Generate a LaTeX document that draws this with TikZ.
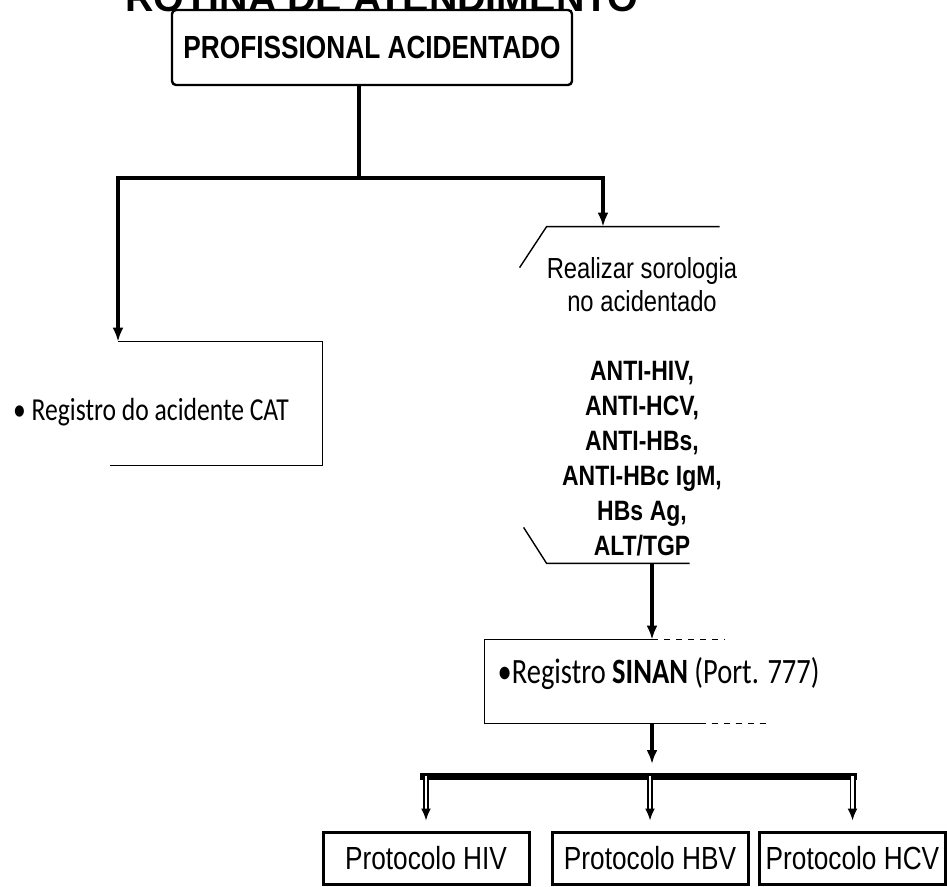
\documentclass[tikz,border=0pt]{standalone}
\usepackage{fontspec}
\setmainfont{Liberation Sans}
\newfontfamily\narrowsans{Liberation Sans}[FakeStretch=0.82]
\newfontfamily\calnarrow{Carlito}[FakeStretch=0.8]
\usetikzlibrary{arrows.meta, positioning, calc}

\tikzset{
  conn/.style={line width=2pt, line cap=rect},
  arrowconn/.style={line width=2pt, -{Latex[length=7pt,width=5.5pt]}},
  dblarrow/.style={double, double distance=1.2pt, line width=0.9pt,
                   -{Latex[length=6pt,width=5pt]}, shorten >=5pt},
  faint/.style={line width=0.7pt},
  frame/.style={minimum width=#1, inner sep=0pt},
  topbox/.style={draw, line width=1.2pt, rounded corners=2pt,
                 minimum width=200pt, minimum height=37.5pt,
                 font=\narrowsans\bfseries\fontsize{16}{19}\selectfont},
  protbox/.style={draw, line width=1.5pt, minimum height=26pt,
                  font=\narrowsans\fontsize{16}{19}\selectfont}
}

\begin{document}
\begin{tikzpicture}[x=0.5pt, y=-0.5pt]
\useasboundingbox (0,0) rectangle (947,887);

% title, cut by the top edge
\node[anchor=base, inner sep=0pt, font=\bfseries\fontsize{19.7}{22}\selectfont]
     (titulo) at (382,12) {ROTINA DE ATENDIMENTO};

% === top ===
\node[topbox] (prof) at (372,47.5) {PROFISSIONAL ACIDENTADO};

\coordinate (split) at (359,178);
\coordinate (barL) at (118,178);
\coordinate (barR) at (603,178);
\draw[conn] (prof.south -| split) -- (split);
\draw[conn] (barL) -- (barR);

% === left: CAT ===
\node[frame=106pt, minimum height=61.5pt] (cat) at (216,403.5) {};
\node[font=\calnarrow\fontsize{16}{19}\selectfont] (cattxt) at (151,412)
     {\textbullet\ Registro do acidente CAT};
\draw[faint] (cat.north -| barL) -- (cat.north east) -- (cat.south east) -- (cat.south west);
\draw[arrowconn] (barL) -- (cat.north -| barL);

% === right: sorologia ===
\node[frame=122pt, minimum height=168pt] (sero) at (642,395) {};
\node[align=center, text width=130pt, inner sep=0pt] (serotxt) at (642,407) {%
  {\narrowsans\fontsize{14.5}{16.5}\selectfont Realizar sorologia\\no acidentado\par}
  \vspace{17pt}
  {\narrowsans\bfseries\fontsize{14}{17.5}\selectfont
   ANTI-HIV,\\ANTI-HCV,\\ANTI-HBs,\\ANTI-HBc IgM,\\HBs Ag,\\ALT/TGP\par}};
\draw[faint] ($(sero.north west)+(0,41)$) -- ($(sero.north west)+(27,0)$)
             -- ($(sero.north west)+(200,0)$);
\draw[faint] ($(sero.south west)+(4,-36)$) -- ($(sero.south west)+(27,0)$)
             -- ($(sero.south west)+(170,0)$);
\draw[arrowconn] (barR) -- (sero.north -| barR);

% === SINAN ===
\coordinate (drop) at (652,600);
\node[frame=141pt, minimum height=41.5pt] (sinan) at (626,681.5) {};
\node[anchor=west, font=\calnarrow\fontsize{17.8}{21}\selectfont] (sinantxt)
     at ($(sinan.west)+(6,-8)$) {\textbullet Registro \textbf{SINAN} (Port. 777)};
\draw[faint] (sinan.north -| drop) -- (sinan.north west) -- (sinan.south west)
             -- ($(sinan.south west)+(215,0)$);
\draw[faint, dashed] (sinan.north -| drop) -- ($(sinan.north west)+(240,0)$);
\draw[faint, dashed] ($(sinan.south west)+(215,0)$) -- (sinan.south east);
\draw[arrowconn] (sero.south -| drop) -- (sinan.north -| drop);

% === protocols ===
\coordinate (hub) at (652,776);
\coordinate (bar2L) at (420,776);
\coordinate (bar2R) at (857,776);
\draw[arrowconn, shorten >=6pt] (sinan.south -| drop) -- (hub);
\draw[line width=3.5pt] (bar2L) -- (bar2R);

\node[protbox, minimum width=103pt] (hiv) at (426,858) {Protocolo HIV};
\node[protbox, minimum width=98pt] (hbv) at (650,858) {Protocolo HBV};
\node[protbox, minimum width=90.5pt] (hcv) at (852.5,858) {Protocolo HCV};

\draw[dblarrow] (hiv.north |- hub) -- (hiv.north);
\draw[dblarrow] (hbv.north |- hub) -- (hbv.north);
\draw[dblarrow] (hcv.north |- hub) -- (hcv.north);

\end{tikzpicture}
\end{document}
